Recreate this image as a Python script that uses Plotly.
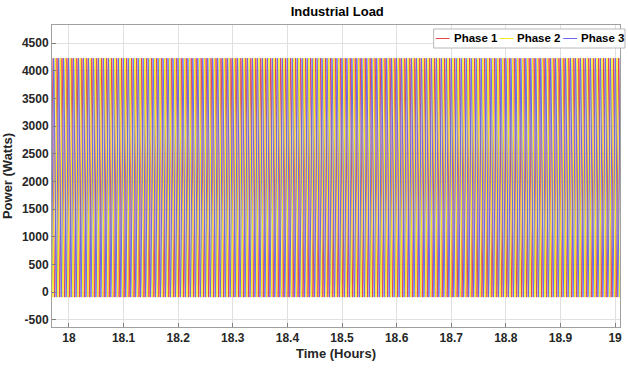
import numpy as np
import plotly.graph_objects as go

# One cycle of each phase's instantaneous power, sampled at 12 equal steps (W)
cycle_watts = [4230, 3941, 3150, 2070, 990, 199, -90, 199, 990, 2070, 3150, 3941]
phase_names = ["Phase 1", "Phase 2", "Phase 3"]
phase_colors = ["#e8474a", "#f2ea1c", "#6a6ae6"]
phase_shift = [0.0, 1 / 3, 2 / 3]          # fraction of a cycle
cycle_hours = 0.0091                       # apparent cycle length on the hour axis
t_start, t_end = 17.969, 19.009

x_ticks = [18.0, 18.1, 18.2, 18.3, 18.4, 18.5, 18.6, 18.7, 18.8, 18.9, 19.0]
x_tick_text = ["18", "18.1", "18.2", "18.3", "18.4", "18.5", "18.6", "18.7", "18.8", "18.9", "19"]
y_ticks = [-500, 0, 500, 1000, 1500, 2000, 2500, 3000, 3500, 4000, 4500]

W, H = 628, 368
ML, MR, MT, MB = 52, 6, 25, 41
plot_w = W - ML - MR
plot_h = H - MT - MB

n_cycles = int((t_end - t_start) / cycle_hours) + 2
profile = np.array(cycle_watts, dtype=float)
steps = len(profile)

fig = go.Figure()
for name, color, shift in zip(phase_names, phase_colors, phase_shift):
    k = np.arange(n_cycles * steps)
    t = t_start + (k / steps - shift) * cycle_hours
    p = profile[k % steps]
    fig.add_trace(go.Scatter(x=t, y=p, mode="lines", name=name,
                             line=dict(color=color, width=1), showlegend=False))


def px_x(px):
    return (px - ML) / plot_w


def px_y(py):
    return 1 - (py - MT) / plot_h


# Compact MATLAB-style legend box in the upper right corner
box_left, box_right, box_top, box_bottom = 435, 627, 29, 48
fig.add_shape(type="rect", xref="paper", yref="paper",
              x0=px_x(box_left), x1=px_x(box_right), y0=px_y(box_bottom), y1=px_y(box_top),
              line=dict(color="#b8b8b8", width=1), fillcolor="white", layer="above")
entry_x0, entry_step, line_len = 437, 64, 14
mid_y = px_y((box_top + box_bottom) / 2)
for i, (name, color) in enumerate(zip(phase_names, phase_colors)):
    x0 = entry_x0 + i * entry_step
    fig.add_shape(type="line", xref="paper", yref="paper",
                  x0=px_x(x0), x1=px_x(x0 + line_len), y0=mid_y, y1=mid_y,
                  line=dict(color=color, width=1), layer="above")
    fig.add_annotation(xref="paper", yref="paper", x=px_x(x0 + line_len + 2), y=mid_y,
                       xanchor="left", yanchor="middle", showarrow=False,
                       text=f"<b>{name}</b>",
                       font=dict(family="Liberation Sans, Arial, sans-serif", size=11.5,
                                 color="black"))

axis_font = dict(family="Liberation Sans, Arial, sans-serif", size=12, color="#262626")
fig.update_layout(
    width=W, height=H,
    margin=dict(l=ML, r=MR, t=MT, b=MB),
    paper_bgcolor="white", plot_bgcolor="white",
    title=dict(text="<b>Industrial Load</b>", x=0.537, xanchor="center",
               y=0.98, yanchor="top",
               font=dict(family="Liberation Sans, Arial, sans-serif", size=13, color="black")),
    font=axis_font,
    showlegend=False,
    xaxis=dict(range=[t_start, t_end], tickvals=x_ticks,
               ticktext=[f"<b>{s}</b>" for s in x_tick_text],
               showgrid=True, gridcolor="#e0e0e0", gridwidth=1,
               showline=True, linecolor="#a0a0a0", mirror=True,
               ticks="inside", ticklen=4, tickcolor="#808080",
               zeroline=False,
               title=dict(text="<b>Time (Hours)</b>", standoff=4,
                          font=dict(size=13, color="#262626"))),
    yaxis=dict(range=[-630, 4830], tickvals=y_ticks,
               ticktext=[f"<b>{v}</b>" for v in y_ticks],
               showgrid=True, gridcolor="#e0e0e0", gridwidth=1,
               showline=True, linecolor="#a0a0a0", mirror=True,
               ticks="inside", ticklen=4, tickcolor="#808080",
               zeroline=False,
               title=dict(text="<b>Power (Watts)</b>", standoff=6,
                          font=dict(size=13, color="#262626"))),
)

fig.write_html("out.html")
